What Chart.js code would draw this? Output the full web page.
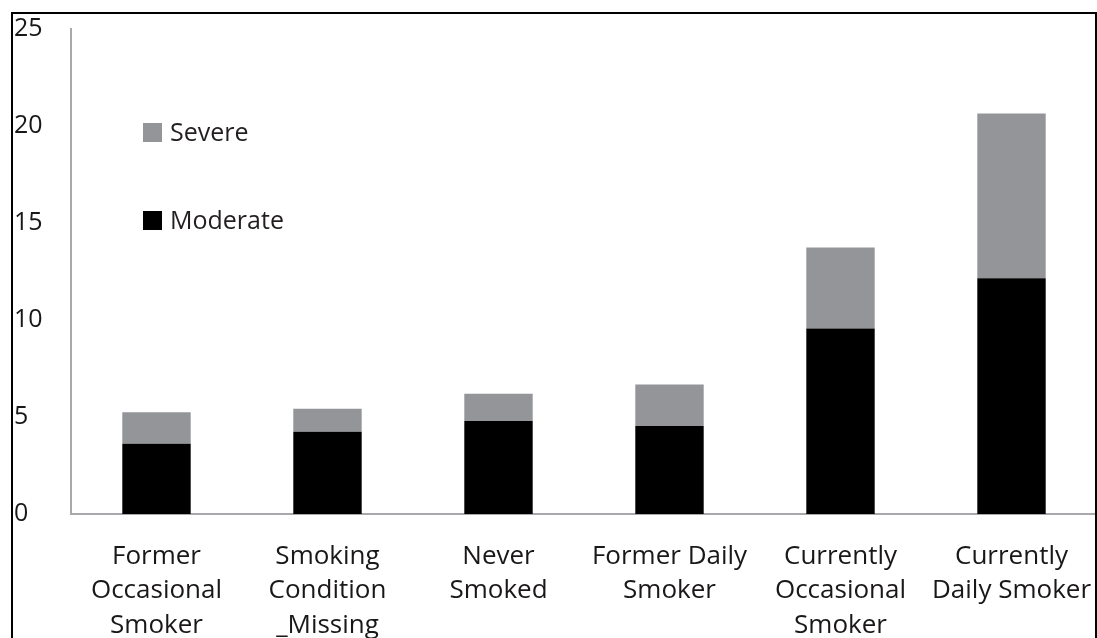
<!DOCTYPE html>
<html>
<head>
<meta charset="utf-8">
<script src="https://cdn.jsdelivr.net/npm/chart.js@4/dist/chart.umd.min.js"></script>
<style>
  html, body { margin: 0; padding: 0; background: #fff; overflow: hidden; }
  #wrap { position: relative; width: 1097px; height: 638px; }
  #frame { position: absolute; left: 11px; top: 12px; width: 1082px; height: 700px; border: 2px solid #000; box-sizing: content-box; pointer-events: none; }
  canvas { position: absolute; left: 0; top: 0; }
  .leg { position: absolute; font-family: "Open Sans", sans-serif; font-size: 25px; color: #231f20; line-height: 1; }
  .leg .box { position: absolute; left: 0; width: 19px; height: 19px; }
  .leg .txt { position: absolute; left: 27px; white-space: nowrap; }
</style>
</head>
<body>
<div id="wrap">
  <canvas id="c" width="1097" height="638"></canvas>
  <div id="frame"></div>
  <div class="leg" style="left:143px; top:123px;">
    <div class="box" style="top:0; background:#939598;"></div>
    <div class="txt" style="top:-4px;">Severe</div>
  </div>
  <div class="leg" style="left:143px; top:211px;">
    <div class="box" style="top:0; background:#000;"></div>
    <div class="txt" style="top:-4px;">Moderate</div>
  </div>
</div>
<script>
const categories = [
  ["Former", "Occasional", "Smoker"],
  ["Smoking", "Condition", "_Missing"],
  ["Never", "Smoked"],
  ["Former Daily", "Smoker"],
  ["Currently", "Occasional", "Smoker"],
  ["Currently", "Daily Smoker"]
];
const moderate = [3.62, 4.24, 4.80, 4.53, 9.56, 12.15];
const severe = [1.63, 1.18, 1.40, 2.15, 4.18, 8.49];
const yTicks = [0, 5, 10, 15, 20, 25];

const font = { family: "'Open Sans', sans-serif", size: 25 };

new Chart(document.getElementById('c'), {
  type: 'bar',
  data: {
    labels: categories,
    datasets: [
      { label: 'Moderate', data: moderate, backgroundColor: '#000000', barPercentage: 0.4, categoryPercentage: 1.0 },
      { label: 'Severe', data: severe, backgroundColor: '#939598', barPercentage: 0.4, categoryPercentage: 1.0 }
    ]
  },
  options: {
    responsive: false,
    animation: false,
    layout: { padding: { left: 14, top: 29, right: 0, bottom: 0 } },
    plugins: { legend: { display: false }, tooltip: { enabled: false } },
    scales: {
      x: {
        stacked: true,
        grid: { display: false, drawTicks: false },
        border: { display: true, color: '#a7a9ac', width: 2 },
        ticks: { color: '#1a1718', font: { ...font, size: 26, lineHeight: 1.33 }, padding: 25, maxRotation: 0, autoSkip: false },
        afterFit: (s) => { s.height = 124; s.paddingLeft = 0; s.paddingRight = 0; }
      },
      y: {
        stacked: true,
        min: 0, max: 25,
        afterBuildTicks: (s) => { s.ticks = yTicks.map(v => ({ value: v })); },
        grid: { display: false, drawTicks: false },
        border: { display: true, color: '#a7a9ac', width: 2 },
        ticks: { color: '#1a1718', font: font, crossAlign: 'far', padding: 0 },
        afterFit: (s) => { s.width = 57; s.paddingTop = 0; s.paddingBottom = 0; }
      }
    }
  }
});
</script>
</body>
</html>
